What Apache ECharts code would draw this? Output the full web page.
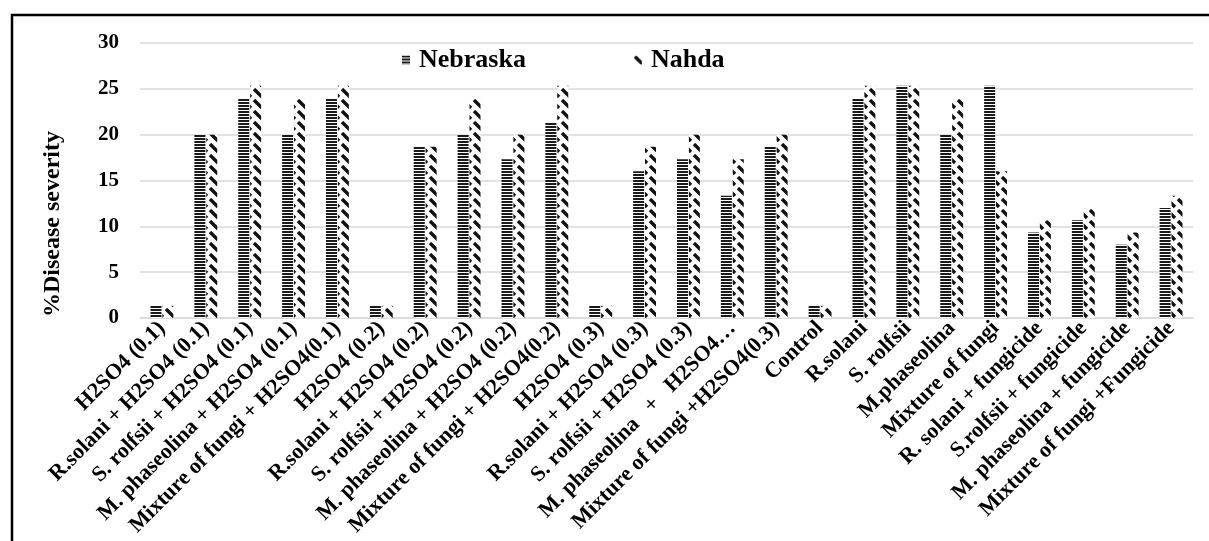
<!DOCTYPE html>
<html>
<head>
<meta charset="utf-8">
<script src="https://cdn.jsdelivr.net/npm/echarts@6/dist/echarts.min.js"></script>
<style>
  html, body { margin: 0; padding: 0; background: #fff; }
  #chart { width: 1209px; height: 541px; }
</style>
</head>
<body>
<div id="chart"></div>
<script>
// Treatments on the category axis
const categories = [
  'H2SO4 (0.1)',
  'R.solani + H2SO4 (0.1)',
  'S. rolfsii + H2SO4 (0.1)',
  'M. phaseolina + H2SO4 (0.1)',
  'Mixture of fungi + H2SO4(0.1)',
  'H2SO4 (0.2)',
  'R.solani + H2SO4 (0.2)',
  'S. rolfsii + H2SO4 (0.2)',
  'M. phaseolina + H2SO4 (0.2)',
  'Mixture of fungi + H2SO4(0.2)',
  'H2SO4 (0.3)',
  'R.solani + H2SO4 (0.3)',
  'S. rolfsii + H2SO4 (0.3)',
  'M. phaseolina   +   H2SO4…',
  'Mixture of fungi +H2SO4(0.3)',
  'Control',
  'R.solani',
  'S. rolfsii',
  'M.phaseolina',
  'Mixture of fungi',
  'R. solani + fungicide',
  'S.rolfsii + fungicide',
  'M. phaseolina + fungicide',
  'Mixture of fungi +Fungicide'
];

// % disease severity per cultivar
const nebraska = [1.33, 20, 24, 20, 24, 1.33, 18.67, 20, 17.33, 21.33, 1.33, 16, 17.33, 13.33, 18.67,
                  1.33, 24, 25.33, 20, 25.33, 9.33, 10.67, 8, 12];
const nahda    = [1.33, 20, 25.33, 24, 25.33, 1.33, 18.67, 24, 20, 25.33, 1.33, 18.67, 20, 17.33, 20,
                  1.33, 25.33, 25.33, 24, 16, 10.67, 12, 9.33, 13.33];

const yTicks = { min: 0, max: 30, interval: 5 };

const FONT = '"Liberation Serif", "Times New Roman", serif';

// Fill patterns: horizontal hatching and dashed downward diagonal
function hLinesPattern() {
  const c = document.createElement('canvas');
  c.width = 4; c.height = 3;
  const g = c.getContext('2d');
  g.fillStyle = '#ffffff'; g.fillRect(0, 0, 4, 3);
  g.fillStyle = '#1a1a1a'; g.fillRect(0, 0, 4, 2);
  return c;
}
function dashDiagPattern() {
  const s = 11;
  const c = document.createElement('canvas');
  c.width = s; c.height = s;
  const g = c.getContext('2d');
  g.fillStyle = '#ffffff'; g.fillRect(0, 0, s, s);
  g.strokeStyle = '#111111';
  g.lineWidth = 3.4;
  g.lineCap = 'butt';
  for (const dx of [-s, 0, s]) {
    g.beginPath();
    g.moveTo(dx + 1, 1);
    g.lineTo(dx + 9, 9);
    g.stroke();
  }
  return c;
}

const chart = echarts.init(document.getElementById('chart'), null, { renderer: 'canvas' });

const option = {
  backgroundColor: '#ffffff',
  animation: false,
  grid: { left: 140, right: 16, top: 43, bottom: 223, containLabel: false, outerBoundsMode: 'none' },
  legend: {
    left: 397,
    top: 42,
    itemWidth: 8,
    itemHeight: 9,
    itemGap: 108,
    icon: 'rect',
    textStyle: { fontFamily: FONT, fontWeight: 'bold', fontSize: 26, color: '#000', padding: [0, 0, 0, 4] },
    data: ['Nebraska', 'Nahda']
  },
  xAxis: {
    type: 'category',
    data: categories,
    axisLine: { lineStyle: { color: '#d9d9d9', width: 1.5 } },
    axisTick: { show: false },
    axisLabel: {
      interval: 0,
      rotate: 45,
      margin: 7,
      fontFamily: FONT,
      fontWeight: 'bold',
      fontSize: 22,
      color: '#000'
    }
  },
  yAxis: {
    type: 'value',
    min: yTicks.min,
    max: yTicks.max,
    interval: yTicks.interval,
    axisLine: { show: false },
    axisTick: { show: false },
    splitLine: { lineStyle: { color: '#d9d9d9', width: 1.5 } },
    axisLabel: {
      margin: 21,
      fontFamily: FONT,
      fontWeight: 'bold',
      fontSize: 21,
      color: '#000'
    }
  },
  series: [
    {
      name: 'Nebraska',
      type: 'bar',
      data: nebraska,
      barWidth: 11,
      barGap: '8%',
      itemStyle: { color: { image: hLinesPattern(), repeat: 'repeat' } }
    },
    {
      name: 'Nahda',
      type: 'bar',
      data: nahda,
      barWidth: 11,
      barGap: '8%',
      itemStyle: { color: { image: dashDiagPattern(), repeat: 'repeat' } }
    }
  ],
  graphic: [
    {
      type: 'text',
      x: 53,
      y: 224,
      rotation: Math.PI / 2,
      style: {
        text: '%Disease severity',
        fontFamily: FONT,
        fontWeight: 'bold',
        fontSize: 24,
        fill: '#000',
        align: 'center',
        verticalAlign: 'middle'
      }
    },
    {
      type: 'polyline',
      shape: { points: [[12, 541], [12, 15], [1209, 15]] },
      style: { stroke: '#000', lineWidth: 2.5, fill: null }
    }
  ]
};

chart.setOption(option);
</script>
</body>
</html>
